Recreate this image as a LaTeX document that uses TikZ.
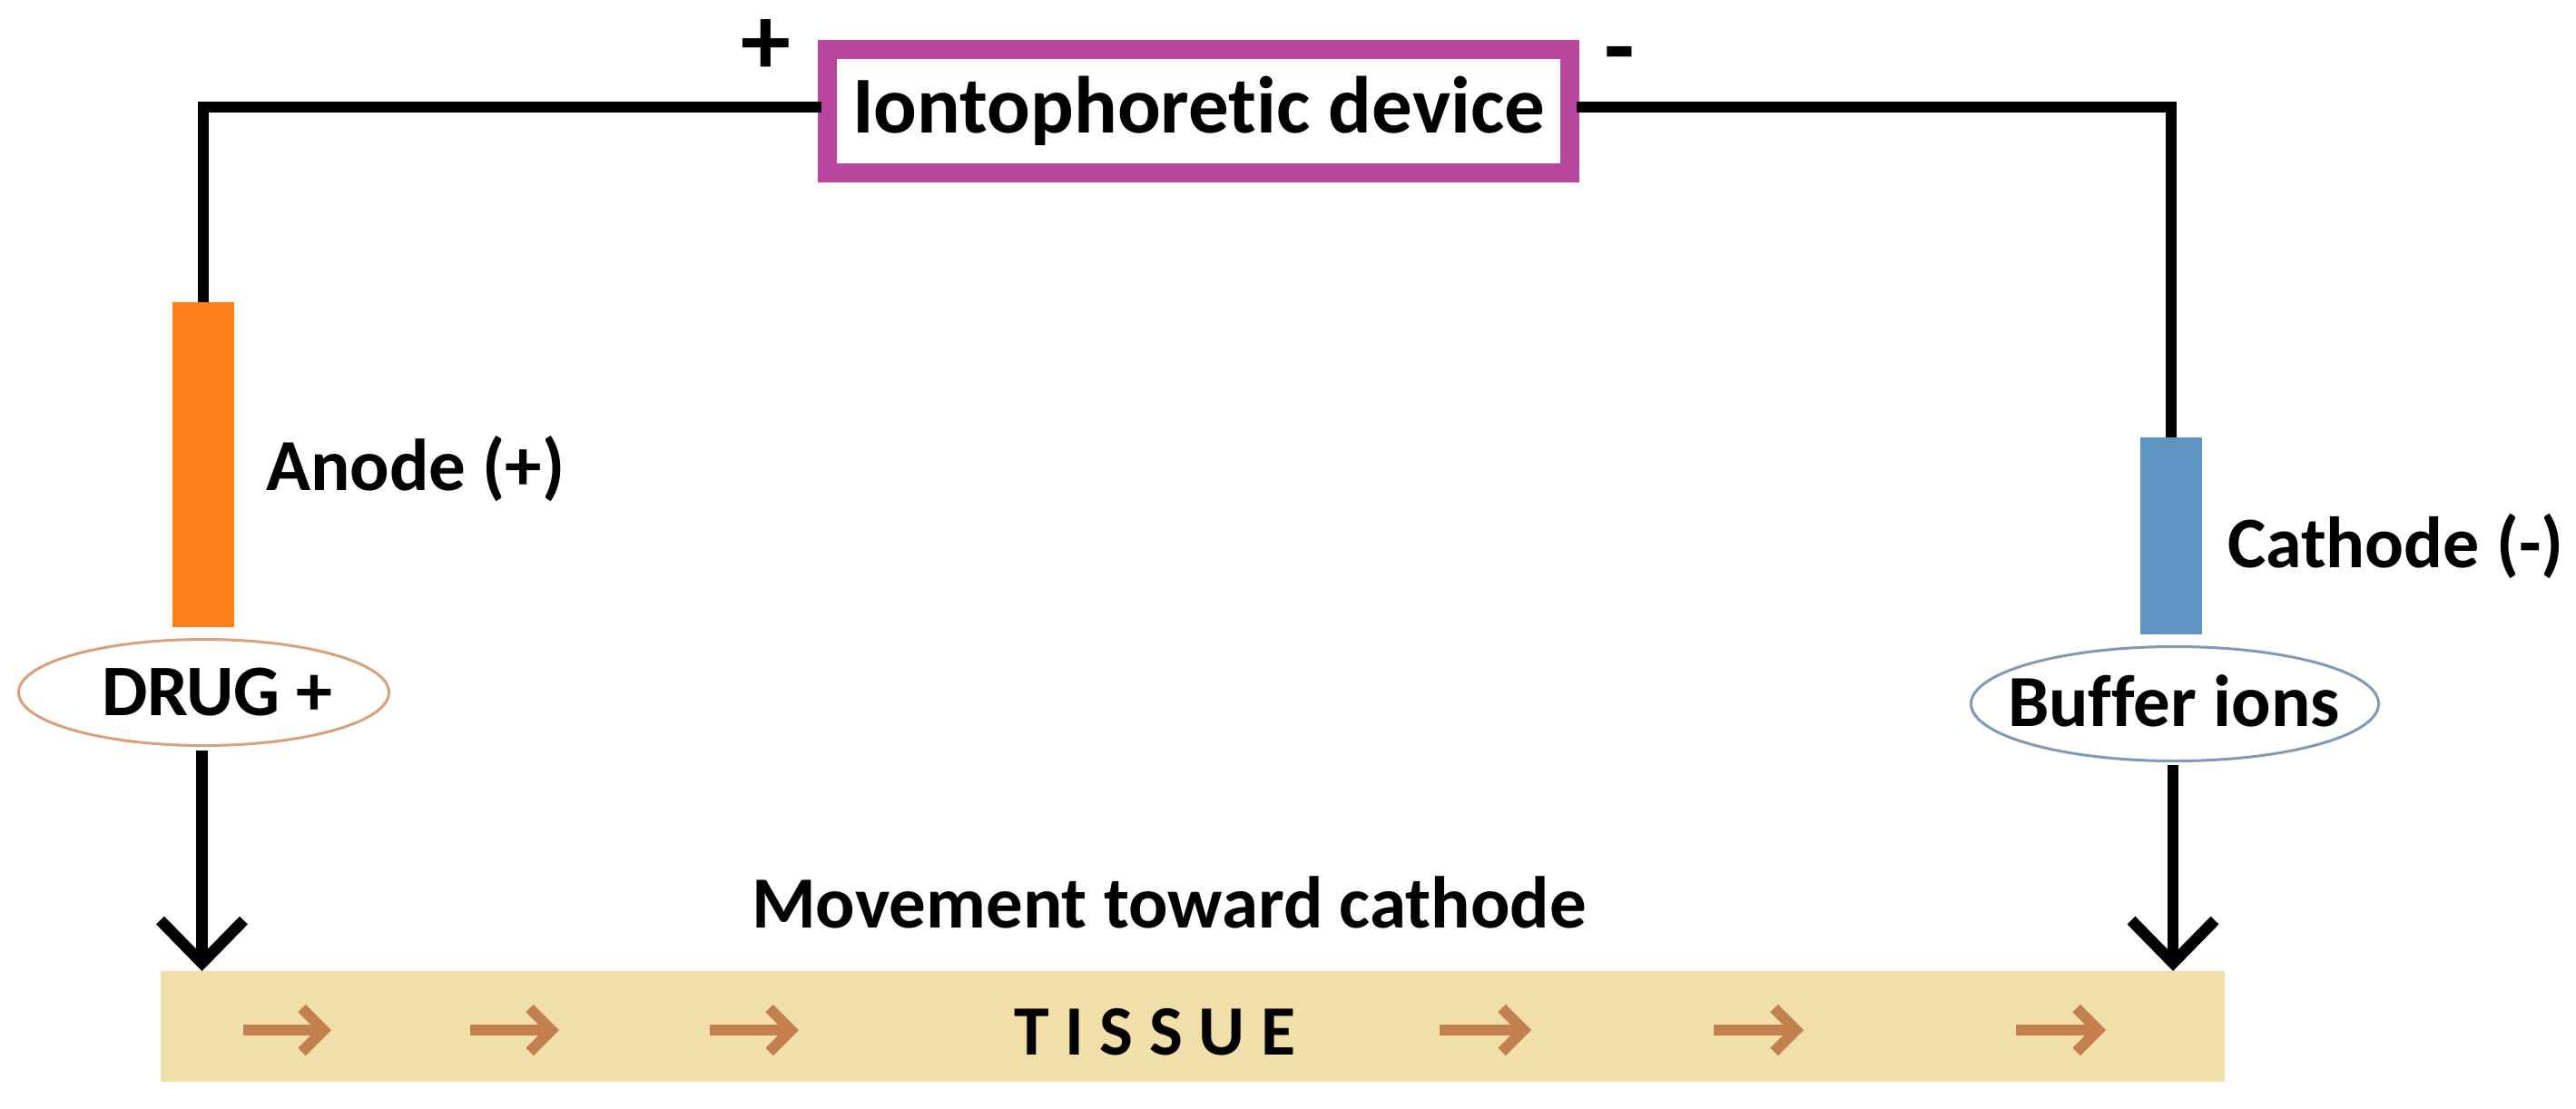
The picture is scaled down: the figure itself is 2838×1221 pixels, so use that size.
\documentclass[tikz,border=0pt]{standalone}
\usepackage{fontspec}
\setmainfont{Carlito}[Ligatures=NoCommon]
\usetikzlibrary{shapes.geometric,arrows.meta}
\definecolor{devc}{HTML}{B8469F}
\definecolor{anodec}{HTML}{FF8018}
\definecolor{cathc}{HTML}{5F93C2}
\definecolor{tissc}{HTML}{F0DFA9}
\definecolor{flowc}{HTML}{C47F4F}
\definecolor{drugline}{HTML}{D9A07A}
\definecolor{bufline}{HTML}{7F9AB5}
\tikzset{
  lbl/.style={anchor=base west,inner sep=0pt,outer sep=0pt,text=black,font=\fontsize{#1}{#1}\selectfont\bfseries},
  wire/.style={draw=black,line width=12pt},
  electrode/.style={rectangle,inner sep=0pt,outer sep=0pt,minimum width=68pt},
  ion/.style={ellipse,draw,line width=3pt,inner sep=0pt,outer sep=0pt},
  down/.style={draw=black,line width=12.5pt,-{Straight Barb[length=47pt,width=92pt,line width=12.5pt]}},
  flow/.style={draw=flowc,line width=12pt,-{Straight Barb[length=24pt,width=48pt,line width=12pt]}},
}
\begin{document}
\begin{tikzpicture}[x=1pt,y=-1pt]
\useasboundingbox[fill=white] (0,0) rectangle (2838,1221);
\node[rectangle,draw=devc,fill=white,line width=21pt,inner sep=0pt,outer sep=0pt,minimum width=818pt,minimum height=136pt] (device) at (1320.5,122.5) {};
\node[lbl=89] (devlabel) at (939,146) {Iontophoretic device};
\node[lbl=110] (plus) at (816,82) {+};
\node[lbl=110] (minus) at (1767,88) {-};
\node[electrode,fill=anodec,minimum height=358pt] (anode) at (224,512) {};
\node[electrode,fill=cathc,minimum height=217pt] (cathode) at (2392,590.5) {};
\node[ion,draw=drugline,minimum width=408pt,minimum height=117pt] (drug) at (224.5,763) {};
\node[ion,draw=bufline,minimum width=449pt,minimum height=126pt] (buffer) at (2396,775.5) {};
\node[lbl=80] (druglabel) at (112,788) {DRUG +};
\node[lbl=81] (buflabel) at (2212,800) {Buffer ions};
\node[lbl=81] (anodelabel) at (293,540) {Anode (+)};
\node[lbl=80] (cathlabel) at (2454,625) {Cathode (-)};
\node[lbl=81] (movelabel) at (828,1022) {Movement toward cathode};
\node[rectangle,fill=tissc,inner sep=0pt,outer sep=0pt,minimum width=2274pt,minimum height=122pt] (tissue) at (1314,1131) {};
\node[lbl=78] (tisslabel) at (1117,1162) {T I S S U E};
\draw[wire] ([xshift=-7pt,yshift=5pt]device.west) -| (anode.north);
\draw[wire] ([xshift=7pt,yshift=5pt]device.east) -| (cathode.north);
\draw[down] ([xshift=-2pt,yshift=-5pt]drug.south) -- ([xshift=-2pt]drug.south |- tissue.north);
\draw[down] ([xshift=-2pt,yshift=-4pt]buffer.south) -- ([xshift=-2pt]buffer.south |- tissue.north);
\foreach \n/\a/\b in {f1/268/365,f2/518/616,f3/782/880,f4/1586/1687,f5/1888/1987,f6/2221/2320}{
  \coordinate (\n s) at (\a,1135);
  \coordinate (\n e) at (\b,1135);
  \draw[flow] (\n s) -- (\n e);
}
\end{tikzpicture}
\end{document}
